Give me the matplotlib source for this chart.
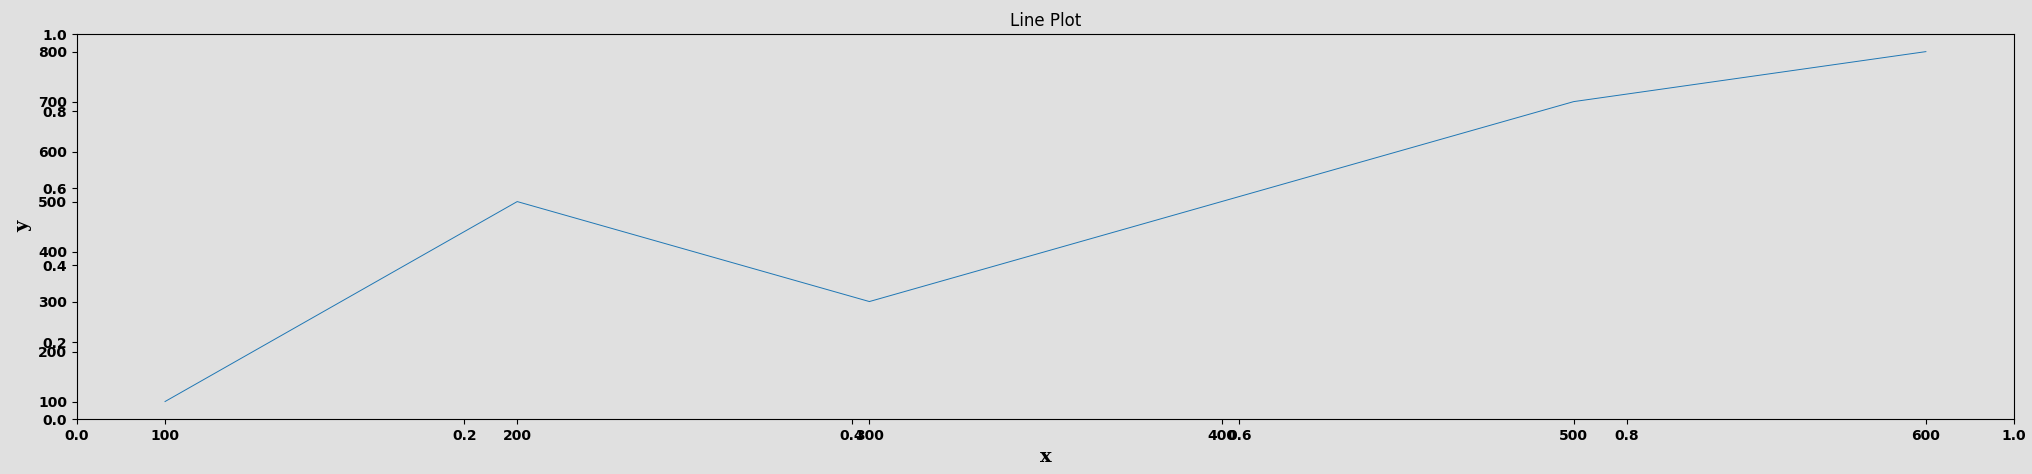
import matplotlib
matplotlib.use("Agg")
import matplotlib.pyplot as plt

x = [100, 200, 300, 400, 500, 600]
y = [100, 500, 300, 500, 700, 800]

bg = "#e0e0e0"
fig = plt.figure(figsize=(20.32, 4.74), dpi=100, facecolor=bg)
pos = [0.0379, 0.116, 0.9532, 0.812]
ax0 = fig.add_axes(pos, facecolor=bg)
ax = fig.add_axes(pos, facecolor="none")
for s in ax.spines.values():
    s.set_visible(False)

ax.plot(x, y, color="#1f77b4", linewidth=0.7)
ax.set_title("Line Plot", fontsize=12)
ax.set_xlabel("x", family="serif", fontweight="bold", fontsize=14, labelpad=4)
ax.set_ylabel("y", family="serif", fontweight="bold", fontsize=14, labelpad=4)

for a in (ax0, ax):
    for lab in a.get_xticklabels() + a.get_yticklabels():
        lab.set_fontweight("bold")
        lab.set_fontsize(10)

fig.savefig("out.png", dpi=100, facecolor=bg)
